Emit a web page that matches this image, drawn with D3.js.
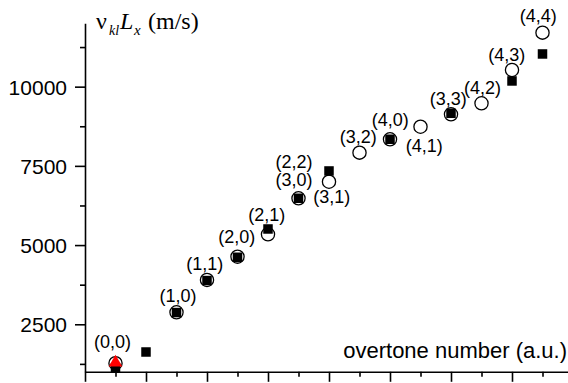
<!DOCTYPE html>
<html>
<head>
<meta charset="utf-8">
<script src="https://cdn.jsdelivr.net/npm/d3@7"></script>
<style>
  html, body { margin: 0; padding: 0; background: #fff; }
  svg { display: block; }
  .serif { font-family: "Liberation Serif", "DejaVu Serif", serif; }
  .sans { font-family: "Liberation Sans", Arial, sans-serif; }
</style>
</head>
<body>
<svg id="chart" width="568" height="383"></svg>
<script>
// ---- data ----
// overtone index (x position, a.u.)
const circleIndex = [1, 3, 4, 5, 6, 7, 8, 9, 10, 11, 12, 13, 14, 15];
const circleValues = [1270, 2879, 3898, 4634, 5341, 6477, 7001, 7917, 8340, 8737, 9129, 9476, 10527, 11705];
const squareIndex = [1, 2, 3, 4, 5, 6, 7, 8, 10, 12, 14, 15];
const squareValues = [1130, 1625, 2870, 3880, 4615, 5508, 6477, 7339, 8340, 9160, 10180, 11032];
const triangleIndex = [1];
const triangleValues = [1290];
const modeLabels = ["(0,0)", "(1,0)", "(1,1)", "(2,0)", "(2,1)", "(2,2)", "(3,0)", "(3,1)", "(3,2)", "(4,0)", "(4,1)", "(3,3)", "(4,2)", "(4,3)", "(4,4)"];
const modeLabelIndex = [1, 3, 4, 5, 6, 7, 7, 8, 9, 10, 11, 12, 13, 14, 15];
const yMajorTicks = [2500, 5000, 7500, 10000];
const yMinorTicks = [1250, 3750, 6250, 8750, 11250];
const xMajorTicks = [0, 2, 4, 6, 8, 10, 12, 14];
const xMinorTicks = [1, 3, 5, 7, 9, 11, 13, 15];

// label offsets from their circle (layout only)
const labelOffsets = [
  [-3, -15], [1.5, -10.5], [-2.3, -10], [-0.8, -13.4], [-1.3, -13.3],
  [-4.5, -30.6], [-4.5, -12.3], [2.7, 21], [-1.2, -10], [0.3, -13.6],
  [3.7, 25], [-2.7, -9.3], [1, -9], [-5.3, -9], [-4.2, -11]
];

// ---- chart ----
const svg = d3.select("#chart");
const x = d3.scaleLinear().domain([0, 15.836]).range([85, 568]);
const y = d3.scaleLinear().domain([1000, 12000]).range([371.8, 23.3]);

const axisColor = "#000";
const sw = 1.6;

// y axis
const gy = svg.append("g").attr("transform", `translate(${x(0)},0)`);
gy.call(d3.axisLeft(y).tickValues(yMajorTicks).tickSize(10).tickSizeOuter(0).tickFormat(d3.format("d")));
gy.append("g").call(d3.axisLeft(y).tickValues(yMinorTicks).tickSize(5).tickSizeOuter(0).tickFormat(""))
  .select(".domain").remove();
gy.selectAll("line").attr("stroke", axisColor).attr("stroke-width", sw);
gy.selectAll(".domain").attr("stroke", axisColor).attr("stroke-width", sw);
gy.selectAll("text")
  .attr("font-family", null).attr("class", "sans")
  .attr("font-size", 21).attr("fill", "#000")
  .attr("x", -18).attr("dy", "0.36em");

// x axis
const gx = svg.append("g").attr("transform", `translate(0,${y(1000)})`);
gx.call(d3.axisBottom(x).tickValues(xMajorTicks).tickSize(10).tickSizeOuter(0).tickFormat(""));
gx.append("g").call(d3.axisBottom(x).tickValues(xMinorTicks).tickSize(5).tickSizeOuter(0).tickFormat(""))
  .select(".domain").remove();
gx.selectAll("line").attr("stroke", axisColor).attr("stroke-width", sw);
gx.selectAll(".domain").attr("stroke", axisColor).attr("stroke-width", sw);

// circles
const circles = circleIndex.map((d, k) => ({ i: d, v: circleValues[k] }));
svg.append("g").selectAll("circle").data(circles).join("circle")
  .attr("cx", d => x(d.i)).attr("cy", d => y(d.v)).attr("r", 6.6)
  .attr("fill", "#fff").attr("stroke", "#000").attr("stroke-width", 1.3);

// squares
const squares = squareIndex.map((d, k) => ({ i: d, v: squareValues[k] }));
const sq = 9.5;
svg.append("g").selectAll("rect").data(squares).join("rect")
  .attr("x", d => x(d.i) - sq / 2).attr("y", d => y(d.v) - sq / 2)
  .attr("width", sq).attr("height", sq).attr("fill", "#000");

// triangle
const tris = triangleIndex.map((d, k) => ({ i: d, v: triangleValues[k] }));
svg.append("g").selectAll("path").data(tris).join("path")
  .attr("d", d3.symbol(d3.symbolTriangle, 80))
  .attr("transform", d => `translate(${x(d.i)},${y(d.v)})`)
  .attr("fill", "#f00");

// mode labels
const circleByIndex = new Map(circles.map(c => [c.i, c]));
svg.append("g").selectAll("text").data(modeLabels).join("text")
  .attr("class", "sans")
  .attr("x", (d, k) => x(modeLabelIndex[k]) + labelOffsets[k][0])
  .attr("y", (d, k) => y(circleByIndex.get(modeLabelIndex[k]).v) + labelOffsets[k][1])
  .attr("text-anchor", "middle")
  .attr("font-size", 18).attr("fill", "#000")
  .text(d => d);

// x axis title
svg.append("text")
  .attr("class", "sans")
  .attr("x", 567).attr("y", 358)
  .attr("text-anchor", "end")
  .attr("font-size", 22).attr("fill", "#000")
  .text("overtone number (a.u.)");

// y axis title: ν_kl L_x (m/s)
const yt = svg.append("text").attr("class", "serif").attr("fill", "#000");
yt.append("tspan").attr("x", 96).attr("y", 28.5).attr("font-size", 24).text("ν");
yt.append("tspan").attr("x", 109).attr("y", 35).attr("font-size", 14).attr("font-style", "italic").text("kl");
yt.append("tspan").attr("x", 120).attr("y", 28.5).attr("font-size", 24).attr("font-style", "italic").text("L");
yt.append("tspan").attr("x", 134).attr("y", 35).attr("font-size", 15).attr("font-style", "italic").text("x");
yt.append("tspan").attr("x", 148).attr("y", 28.5).attr("font-size", 24).text("(m/s)");
</script>
</body>
</html>
